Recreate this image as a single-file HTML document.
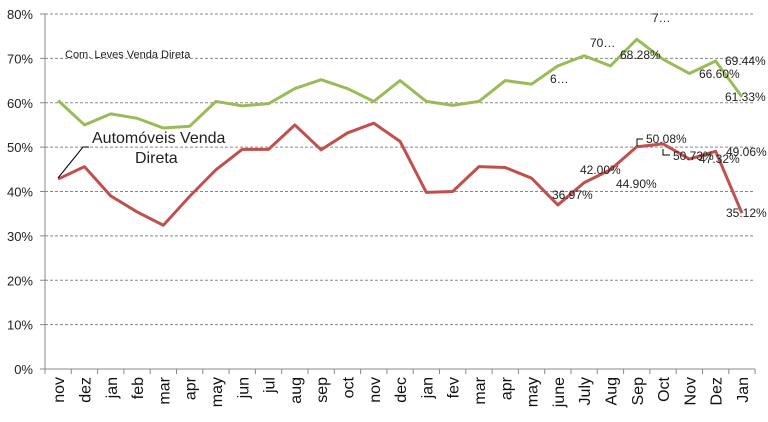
<!DOCTYPE html>
<html><head><meta charset="utf-8"><style>
body{margin:0;background:#fff}
svg{display:block;font-family:"Liberation Sans",sans-serif}
</style></head><body>
<svg id="s" width="768" height="422" xmlns="http://www.w3.org/2000/svg"></svg>
<script>
const g=[60.5,55,57.5,56.5,54.3,54.7,60.3,59.3,59.8,63.2,65.2,63.2,60.3,65,60.3,59.4,60.3,65,64.2,68.3,70.6,68.3,74.3,69.8,66.6,69.4,61.33];
const r=[42.8,45.6,39,35.4,32.4,38.9,44.9,49.5,49.5,55,49.4,53.2,55.4,51.3,39.8,40,45.6,45.4,43,36.97,42,44.9,50.08,50.73,47.32,49.06,35.12];
const cats=["nov","dez","jan","feb","mar","apr","may","jun","jul","aug","sep","oct","nov","dec","jan","fev","mar","apr","may","june","July","Aug","Sep","Oct","Nov","Dez","Jan"];
const X0=45,W=26.3,Y0=369,K=4.4375;
const x=i=>X0+W/2+i*W, y=v=>Y0-v*K;
let h="";
for(let p=0;p<=80;p+=10){const yy=y(p);
 if(p>0)h+=`<line x1="45" x2="755" y1="${yy}" y2="${yy}" stroke="#888" stroke-dasharray="3,2" stroke-width="1"/>`;
 h+=`<line x1="40" x2="45" y1="${yy}" y2="${yy}" stroke="#888"/>`;
 h+=`<text x="33" y="${yy+5}" font-size="13" text-anchor="end" fill="#222">${p}%</text>`;}
h+=`<line x1="45" x2="45" y1="14" y2="369" stroke="#888"/><line x1="45" x2="755" y1="369" y2="369" stroke="#888"/>`;
for(let i=0;i<=27;i++){const xx=X0+i*W;h+=`<line x1="${xx}" x2="${xx}" y1="369" y2="374" stroke="#888"/>`;}
cats.forEach((c,i)=>{h+=`<text transform="translate(${x(i)+6},377) rotate(-90)" font-size="16" text-anchor="end" fill="#111">${c}</text>`;});
const pl=(a,c)=>`<polyline fill="none" stroke="${c}" stroke-width="3" stroke-linejoin="round" points="${a.map((v,i)=>x(i)+','+y(v)).join(' ')}"/>`;
h+=pl(g,"#9bbb59")+pl(r,"#c0504d");
const t=(s,xx,yy,f=12)=>h+=`<text x="${xx}" y="${yy}" font-size="${f}" fill="#222">${s}</text>`;
t("Com. Leves Venda Direta",65,58,11);
t("Automóveis Venda",92,143,16);t("Direta",135,163,16);
h+=`<polyline fill="none" stroke="#000" points="58,178 83,147 89,147"/>`;
[["7…",652,22],["70…",590,47],["68.28%",620,59],["6…",550,83],["69.44%",725,65],["66.60%",699,78],["61.33%",725,101],
 ["50.08%",646,143],["50.73%",673,160],["47.32%",699,163],["49.06%",726,156],["42.00%",580,174],["44.90%",616,188],["36.97%",552,199],["35.12%",726,217]].forEach(a=>t(...a));
h+=`<polyline fill="none" stroke="#000" points="637,146 637,139 643,139"/><polyline fill="none" stroke="#000" points="663,149 663,155 670,155"/>`;
document.getElementById("s").innerHTML=h;
</script>
</body></html>
